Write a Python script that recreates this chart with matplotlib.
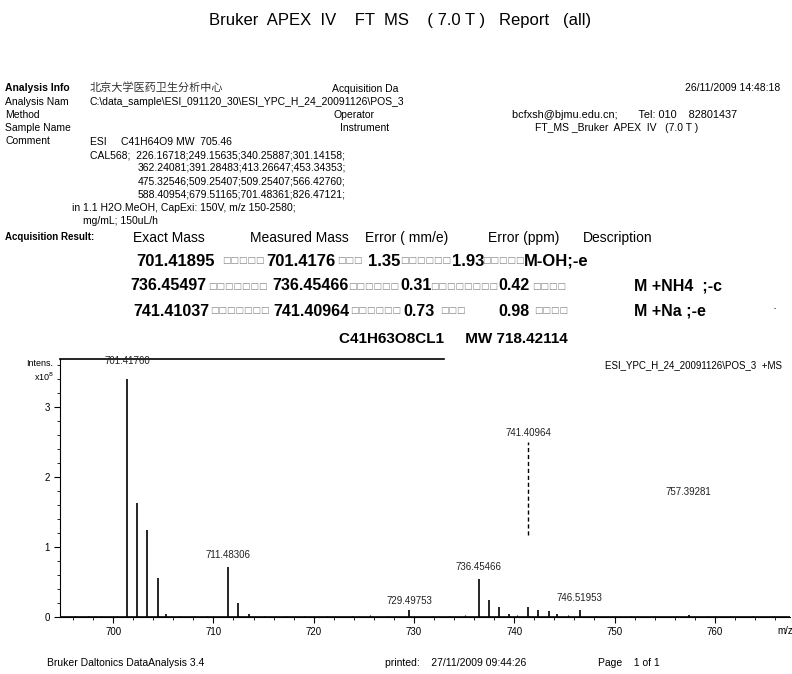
import matplotlib
matplotlib.use("Agg")
import matplotlib.pyplot as plt
from matplotlib.ticker import MultipleLocator

plt.rcParams["font.family"] = ["Liberation Sans", "Noto Sans CJK SC", "DejaVu Sans"]

# Peaks of the spectrum (m/z, intensity in units of 1e8)
peak_mz = [701.4176, 702.42, 703.42, 704.43, 705.3, 711.48306, 712.49, 713.5,
           729.49753, 736.45466, 737.46, 738.46, 739.5, 741.40964, 742.41,
           743.42, 744.3, 746.51953, 757.39281]
peak_int = [3.41, 1.63, 1.24, 0.56, 0.05, 0.72, 0.20, 0.05,
            0.10, 0.54, 0.24, 0.14, 0.04, 0.14, 0.10,
            0.08, 0.05, 0.10, 0.03]

# small noise spikes along the baseline
noise_mz = [696.2, 697.5, 698.8, 700.4, 706.6, 708.1, 709.4, 715.0, 717.2, 719.0,
            721.3, 723.8, 725.6, 727.4, 731.9, 733.5, 735.1, 740.3, 745.4, 748.2,
            751.6, 754.0, 756.1, 759.3, 761.5, 763.8, 765.9]
noise_int = [0.02, 0.015, 0.02, 0.02, 0.02, 0.015, 0.02, 0.015, 0.02, 0.015,
             0.02, 0.02, 0.025, 0.02, 0.02, 0.02, 0.025, 0.03, 0.035, 0.02,
             0.015, 0.02, 0.015, 0.02, 0.015, 0.02, 0.015]

# Labelled peaks and the height of each label
label_mz = [701.4176, 711.48306, 729.49753, 736.45466, 741.40964, 746.51953, 757.39281]
label_text = ["701.41760", "711.48306", "729.49753", "736.45466", "741.40964",
              "746.51953", "757.39281"]
label_y = [3.59, 0.81, 0.16, 0.64, 2.56, 0.20, 1.71]

# Result table
exact_mass = ["701.41895", "736.45497", "741.41037"]
measured_mass = ["701.4176", "736.45466", "741.40964"]
error_mme = ["1.35", "0.31", "0.73"]
error_ppm = ["1.93", "0.42", "0.98"]
description = ["M-OH;-e", "M +NH4  ;-c", "M +Na ;-e"]

W, H = 792, 674
fig = plt.figure(figsize=(W / 100, H / 100), dpi=100)


def put(x, y, s, **kw):
    # place text using pixel coordinates of the page
    kw.setdefault("va", "center")
    kw.setdefault("fontsize", 8)
    fig.text(x / W, 1 - y / H, s, **kw)


# title
put(400, 20, "Bruker  APEX  IV    FT  MS    ( 7.0 T )   Report   (all)", fontsize=12, ha="center")

# info block
put(5, 88, "Analysis Info", fontweight="bold", fontsize=7.5)
put(90, 87, "北京大学医药卫生分析中心", fontsize=8, color="#333333")
put(332, 89, "Acquisition Da", fontsize=7.5)
put(780, 88, "26/11/2009 14:48:18", fontsize=7.5, ha="right")
put(5, 102, "Analysis Nam", fontsize=7.5)
put(90, 102, "C:\\data_sample\\ESI_091120_30\\ESI_YPC_H_24_20091126\\POS_3", fontsize=7.5)
put(5, 115, "Method", fontsize=7.5)
put(333, 115, "Operator", fontsize=7.5)
put(512, 115, "bcfxsh@bjmu.edu.cn;       Tel: 010    82801437", fontsize=7.8)
put(5, 128, "Sample Name", fontsize=7.5)
put(340, 128, "Instrument", fontsize=7.5)
put(535, 128, "FT_MS _Bruker  APEX  IV   (7.0 T )", fontsize=7.5)
put(5, 141, "Comment", fontsize=7.5)
put(90, 142, "ESI     C41H64O9 MW  705.46", fontsize=7.5)
put(90, 155, "CAL568;  226.16718;249.15635;340.25887;301.14158;", fontsize=7.5)
put(138, 168, "362.24081;391.28483;413.26647;453.34353;", fontsize=7.5)
put(138, 181, "475.32546;509.25407;509.25407;566.42760;", fontsize=7.5)
put(138, 194, "588.40954;679.51165;701.48361;826.47121;", fontsize=7.5)
put(72, 208, "in 1.1 H2O.MeOH, CapExi: 150V, m/z 150-2580;", fontsize=7.5)
put(83, 221, "mg/mL; 150uL/h", fontsize=7.5)

# acquisition result table
put(5, 237, "Acquisition Result:", fontweight="bold", fontsize=7)
put(133, 238, "Exact Mass", fontsize=10)
put(250, 238, "Measured Mass", fontsize=10)
put(365, 238, "Error ( mm/e)", fontsize=10)
put(488, 238, "Error (ppm)", fontsize=10)
put(583, 238, "Description", fontsize=10)

row_y = [261, 286, 311]
row_size = [12, 11.5, 11.5]
col_x = [[136, 266, 368, 452, 524],
         [130, 272, 400, 498, 634],
         [133, 273, 403, 498, 634]]
# spans of the unreadable tab boxes between the columns
gap_span = [[(222, 264), (337, 366), (400, 450), (482, 523)],
            [(208, 266), (348, 396), (430, 494), (532, 566)],
            [(210, 268), (350, 398), (440, 466), (534, 570)]]
for i in range(3):
    vals = [exact_mass[i], measured_mass[i], error_mme[i], error_ppm[i], description[i]]
    for x, v in zip(col_x[i], vals):
        put(x, row_y[i], v, fontsize=row_size[i], fontweight="bold")
    for x0, x1 in gap_span[i]:
        n = max(1, int((x1 - x0) / 8))
        put(x0, row_y[i], "□" * n, fontsize=6.5, color="#888888", family="DejaVu Sans")
put(773, 309, "·", fontsize=9)

put(453, 339, "C41H63O8CL1     MW 718.42114", fontsize=11, fontweight="bold", ha="center")

# spectrum
ax = fig.add_axes([60 / W, 1 - 617 / H, 730 / W, 258 / H])
ax.vlines(noise_mz, 0, noise_int, color="black", linewidth=0.8)
ax.vlines(peak_mz, 0, peak_int, color="black", linewidth=1.2)
ax.axhline(0, color="black", linewidth=1.2)
for mz, txt, ly in zip(label_mz, label_text, label_y):
    ax.text(mz, ly, txt, fontsize=7, ha="center", va="bottom", color="#222222")
# dashed marker under the 741 label
ax.vlines([741.40964], 1.17, 2.5, color="black", linewidth=1.0, linestyles=(0, (3, 2)))

ax.set_xlim(694.7, 767.5)
ax.set_ylim(0, 3.69)
ax.xaxis.set_major_locator(MultipleLocator(10))
ax.xaxis.set_minor_locator(MultipleLocator(2))
ax.yaxis.set_major_locator(MultipleLocator(1))
ax.yaxis.set_minor_locator(MultipleLocator(0.2))
ax.tick_params(axis="both", which="major", labelsize=7, length=4)
ax.tick_params(axis="both", which="minor", length=2)
ax.spines["right"].set_visible(False)
ax.spines["top"].set_visible(False)
ax.plot([0, 0.526], [1, 1], transform=ax.transAxes, color="black", linewidth=1.2, clip_on=False)

put(26, 364, "Intens.", fontsize=6.5)
put(34, 377, "x10$^8$", fontsize=6.5)
put(785, 631, "m/z", fontsize=7, ha="center")
put(605, 365, "ESI_YPC_H_24_20091126\\POS_3  +MS", fontsize=7)

# footer
put(47, 663, "Bruker Daltonics DataAnalysis 3.4", fontsize=7.5)
put(385, 663, "printed:    27/11/2009 09:44:26", fontsize=7.5)
put(598, 663, "Page    1 of 1", fontsize=7.5)

fig.savefig("out.png", dpi=100)
